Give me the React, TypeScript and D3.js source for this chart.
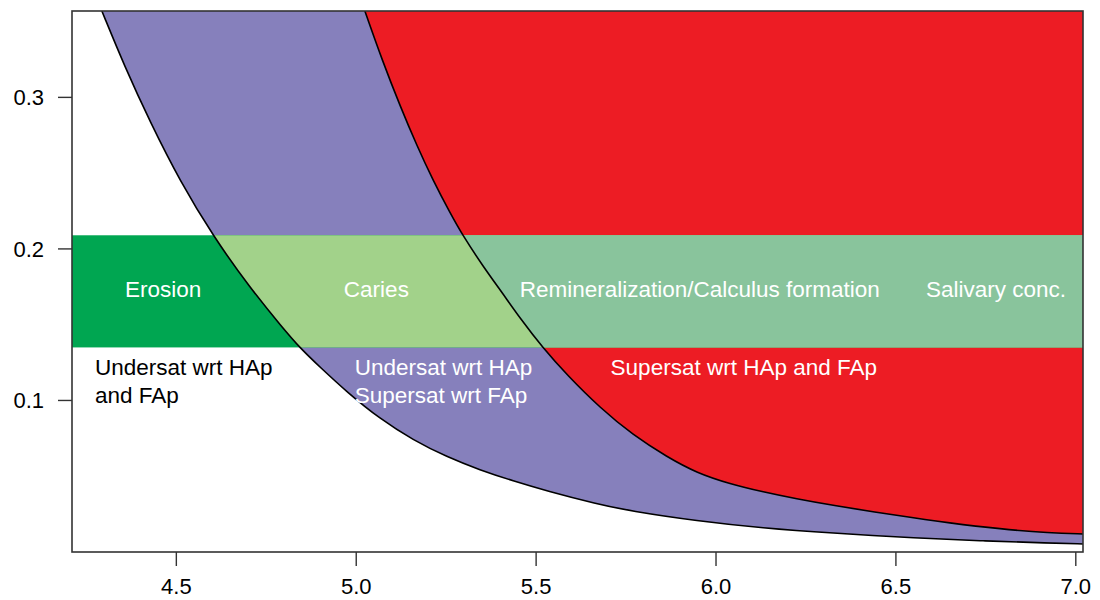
import React from "react";
import * as d3 from "d3";

// Axis ticks
const xTicks = [4.5, 5.0, 5.5, 6.0, 6.5, 7.0];
const yTicks = [0.1, 0.2, 0.3];
const xDomain = [4.21, 7.02];
const yDomain = [0, 0.357];

// Boundary: HAp solubility (white / purple)
const hapPH = [4.293, 4.357, 4.427, 4.51, 4.602, 4.705, 4.796, 4.844, 4.899, 4.974, 5.066, 5.158, 5.252, 5.344, 5.436, 5.53, 5.669, 5.761, 5.947, 6.131, 6.317, 6.559, 6.742, 6.928, 7.02];
const hapConc = [0.357, 0.32, 0.2838, 0.2448, 0.2085, 0.1742, 0.1478, 0.1346, 0.1221, 0.1056, 0.0878, 0.0739, 0.0627, 0.0541, 0.0469, 0.0403, 0.0317, 0.0271, 0.0205, 0.0158, 0.0125, 0.0092, 0.0073, 0.0059, 0.0053];

// Boundary: FAp solubility (purple / red)
const fapPH = [5.024, 5.074, 5.122, 5.169, 5.213, 5.261, 5.297, 5.352, 5.408, 5.455, 5.519, 5.586, 5.678, 5.769, 5.864, 5.947, 6.039, 6.131, 6.225, 6.317, 6.511, 6.65, 6.789, 6.928, 7.02];
const fapConc = [0.357, 0.3233, 0.2943, 0.2679, 0.2455, 0.2237, 0.2085, 0.1887, 0.1703, 0.1544, 0.1346, 0.1168, 0.095, 0.0772, 0.0627, 0.0521, 0.0449, 0.0396, 0.035, 0.031, 0.0238, 0.0191, 0.0152, 0.0125, 0.0119];

// Salivary concentration band
const bandRange = [0.135, 0.209];

// Labels
const bandLabels = ["Erosion", "Caries", "Remineralization/Calculus formation", "Salivary conc."];
const bandLabelPH = [4.463, 5.056, 5.955, 6.778];
const regionLabels = [
  ["Undersat wrt HAp", "and FAp"],
  ["Undersat wrt HAp", "Supersat wrt FAp"],
  ["Supersat wrt HAp and FAp"],
];
const regionLabelPH = [4.274, 4.996, 5.707];

const W = 1100;
const H = 600;
const L = 72, R = 1083, T = 11, B = 552;

const COL_PURPLE = "#8680BC";
const COL_RED = "#ED1C24";
const COL_GREEN = "#00A651";
const COL_LIGHTGREEN = "#A2D28A";
const COL_GREYGREEN = "#89C49C";
const FONT = "'Liberation Sans', Arial, Helvetica, sans-serif";

export default function App() {
  const x = d3.scaleLinear().domain(xDomain).range([L, R]);
  const y = d3.scaleLinear().domain(yDomain).range([B, T]);

  const line = d3
    .line<[number, number]>()
    .x((d) => x(d[0]))
    .y((d) => y(d[1]))
    .curve(d3.curveBasis);

  const hapPts: [number, number][] = hapPH.map((p, i) => [p, hapConc[i]]);
  const fapPts: [number, number][] = fapPH.map((p, i) => [p, fapConc[i]]);

  const hapLine = line(hapPts) as string;
  const fapLine = line(fapPts) as string;
  const topRight = `L${x(xDomain[1])},${y(yDomain[1])}Z`;
  const purplePath = hapLine + topRight;
  const redPath = fapLine + topRight;

  const bandY = y(bandRange[1]);
  const bandH = y(bandRange[0]) - y(bandRange[1]);

  return (
    <svg width={W} height={H} style={{ position: "absolute", left: 0, top: 0, background: "#fff" }}>
      <defs>
        <clipPath id="plot">
          <rect x={L} y={T} width={R - L} height={B - T} />
        </clipPath>
        <clipPath id="purpleClip">
          <path d={purplePath} />
        </clipPath>
        <clipPath id="redClip">
          <path d={redPath} />
        </clipPath>
      </defs>
      <g clipPath="url(#plot)">
        <path d={purplePath} fill={COL_PURPLE} />
        <path d={redPath} fill={COL_RED} />
        <rect x={L} y={bandY} width={R - L} height={bandH} fill={COL_GREEN} />
        <g clipPath="url(#purpleClip)">
          <rect x={L} y={bandY} width={R - L} height={bandH} fill={COL_LIGHTGREEN} />
        </g>
        <g clipPath="url(#redClip)">
          <rect x={L} y={bandY} width={R - L} height={bandH} fill={COL_GREYGREEN} />
        </g>
        <path d={hapLine} fill="none" stroke="#000" strokeWidth={1.6} />
        <path d={fapLine} fill="none" stroke="#000" strokeWidth={1.6} />
      </g>

      {/* band labels */}
      {bandLabels.map((t, i) => (
        <text
          key={t}
          x={x(bandLabelPH[i])}
          y={297}
          textAnchor="middle"
          fill="#fff"
          fontFamily={FONT}
          fontSize={22.5}
        >
          {t}
        </text>
      ))}

      {/* region labels */}
      {regionLabels.map((lines, i) => (
        <text
          key={i}
          x={x(regionLabelPH[i])}
          y={375}
          fill={i === 0 ? "#000" : "#fff"}
          fontFamily={FONT}
          fontSize={22.5}
        >
          {lines.map((ln, j) => (
            <tspan key={j} x={x(regionLabelPH[i])} dy={j === 0 ? 0 : 28}>
              {ln}
            </tspan>
          ))}
        </text>
      ))}

      {/* frame */}
      <rect x={L} y={T} width={R - L} height={B - T} fill="none" stroke="#333" strokeWidth={1.6} />

      {/* x axis */}
      {xTicks.map((t) => (
        <g key={t}>
          <line x1={x(t)} x2={x(t)} y1={B} y2={B + 14} stroke="#333" strokeWidth={1.4} />
          <text x={x(t)} y={594} textAnchor="middle" fontFamily={FONT} fontSize={22} fill="#000">
            {t.toFixed(1)}
          </text>
        </g>
      ))}

      {/* y axis */}
      {yTicks.map((t) => (
        <g key={t}>
          <line x1={L - 14} x2={L} y1={y(t)} y2={y(t)} stroke="#333" strokeWidth={1.4} />
          <text x={44} y={y(t)} dy="0.36em" textAnchor="end" fontFamily={FONT} fontSize={22} fill="#000">
            {t.toFixed(1)}
          </text>
        </g>
      ))}
    </svg>
  );
}
